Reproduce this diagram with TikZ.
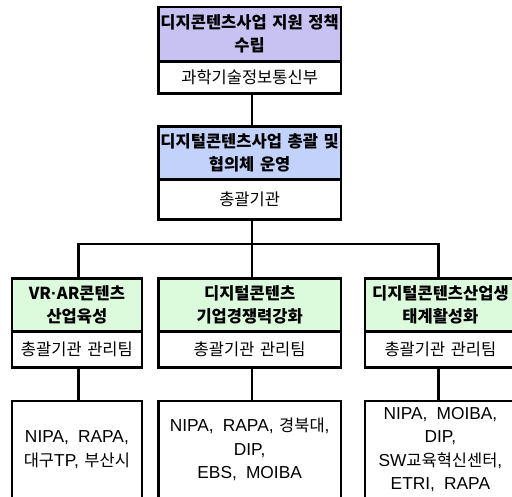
\documentclass[tikz,border=0pt]{standalone}
\usepackage{fontspec}
\setmainfont{Noto Sans CJK KR}[WordSpace=1.5]
\newfontfamily\lat{Liberation Sans}[Scale=1.05,WordSpace=1.9]
\definecolor{purplefill}{RGB}{200,194,242}
\definecolor{bluefill}{RGB}{194,210,250}
\definecolor{greenfill}{RGB}{220,250,220}
\tikzset{
  box/.style={draw=black, line width=2.8pt, inner sep=0pt, align=center, anchor=north west},
  head/.style={box, font=\bfseries\fontsize{16.5}{23}\selectfont},
  subbox/.style={box, fill=white, font=\fontsize{16.5}{23.5}\selectfont},
  conn/.style={line width=2.8pt, line join=miter}
}
\begin{document}
\begin{tikzpicture}[x=1pt,y=-1pt]
\useasboundingbox (0,0) rectangle (512,496);
% level 1
\node[head, fill=purplefill, minimum width=182.5pt, minimum height=54.5pt] (thead) at (157,5.5) {디지콘텐츠사업 지원 정책\\수립};
\node[subbox, minimum width=182.5pt, minimum height=32pt] (tsub) at (157,60) {과학기술정보통신부};
% level 2
\node[head, fill=bluefill, minimum width=182.5pt, minimum height=53pt] (mhead) at (157,125) {디지털콘텐츠사업 총괄 및\\협의체 운영};
\node[subbox, minimum width=182.5pt, minimum height=40pt] (msub) at (157,178) {총괄기관};
% level 3
\node[head, fill=greenfill, minimum width=130pt, minimum height=53pt] (Lhead) at (10.5,277) {VR{\lat·}AR콘텐츠\\산업육성};
\node[subbox, minimum width=130pt, minimum height=36pt] (Lsub) at (10.5,330) {총괄기관 관리팀};
\node[head, fill=greenfill, minimum width=182.5pt, minimum height=53pt] (Mhead) at (157,277) {디지털콘텐츠\\기업경쟁력강화};
\node[subbox, minimum width=182.5pt, minimum height=36pt] (Msub) at (157,330) {총괄기관 관리팀};
\node[head, fill=greenfill, minimum width=151pt, minimum height=53pt] (Rhead) at (363.5,277) {디지털콘텐츠산업생\\태계활성화};
\node[subbox, minimum width=151pt, minimum height=36pt] (Rsub) at (363.5,330) {총괄기관 관리팀};
% level 4
\node[subbox, minimum width=130pt, minimum height=97pt, yshift=-2.5pt] (Lbot) at (10.5,397) {{\lat NIPA, RAPA,}\\대구{\lat TP,} 부산시};
\node[subbox, minimum width=182.5pt, minimum height=97pt, yshift=-2.5pt] (Mbot) at (157,397) {{\lat NIPA, RAPA,} 경북대{\lat ,}\\{\lat DIP,}\\{\lat EBS, MOIBA}};
\node[subbox, minimum width=151pt, minimum height=97pt, yshift=-2.5pt] (Rbot) at (363.5,397) {{\lat NIPA, MOIBA,}\\{\lat DIP,}\\{\lat SW}교육혁신센터{\lat ,}\\{\lat ETRI, RAPA}};
% connectors
\coordinate (bus) at (252,244);
\coordinate (busL) at (78.5,244);
\coordinate (busR) at (438.5,244);
\draw[conn] (tsub.south -| bus) -- (mhead.north -| bus);
\draw[conn] (msub.south -| bus) -- (Mhead.north -| bus);
\draw[conn] (Lhead.north -| busL) -- (busL) -- (busR) -- (Rhead.north -| busR);
\draw[conn] (Lsub.south -| busL) -- (Lbot.north -| busL);
\draw[conn] (Msub.south -| bus) -- (Mbot.north -| bus);
\draw[conn] (Rsub.south -| busR) -- (Rbot.north -| busR);
\end{tikzpicture}
\end{document}
